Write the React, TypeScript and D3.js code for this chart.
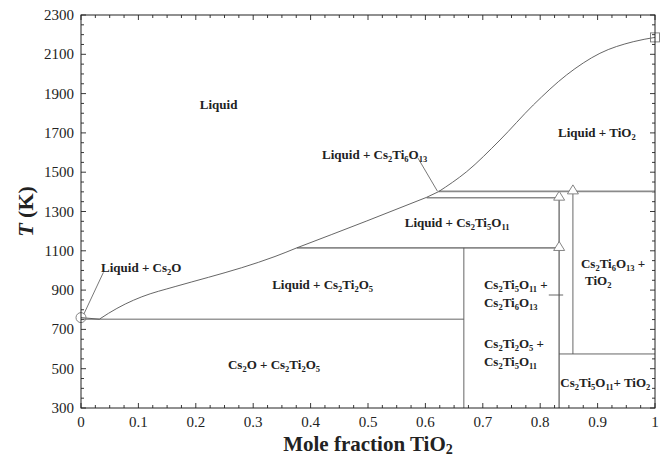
import React from "react";
import * as d3 from "d3";

// liquidus pieces, x = mole fraction TiO2, T in K
const liqCs2Ti2O5: [number, number][] = [
  [0.032, 752], [0.048, 782], [0.077, 829], [0.106, 866], [0.164, 918],
  [0.222, 965], [0.28, 1014], [0.338, 1071], [0.376, 1115],
];
const liqCs2Ti5O11: [number, number][] = [[0.376, 1115], [0.498, 1252], [0.602, 1372]];
const liqCs2Ti6O13: [number, number][] = [[0.602, 1372], [0.623, 1401]];
const liqTiO2: [number, number][] = [
  [0.623, 1401], [0.672, 1503], [0.73, 1664], [0.788, 1842], [0.846, 1995],
  [0.904, 2105], [0.962, 2164], [1.0, 2186],
];
const cs2oMelt: [number, number][] = [[0, 760], [0.032, 752]];

// thin dark lines
const thinLines: [number, number][][] = [
  [[0, 752], [0.667, 752]],
  [[0.667, 1115], [0.667, 300]],
  [[0.857, 1402], [0.857, 575]],
  [[0.833, 575], [1, 575]],
  [[0.815, 875], [0.84, 875]],
];
// grey heavier lines
const greyLines: [number, number][][] = [
  [[0.376, 1115], [0.833, 1115]],
  [[0.602, 1370], [0.833, 1370]],
  [[0.623, 1402], [1, 1402]],
  [[0.833, 1370], [0.833, 300]],
];
const leaders: [number, number][][] = [
  [[0.039, 990], [0.005, 778]],
  [[0.587, 1572], [0.621, 1403]],
];
const triangles: [number, number][] = [[0.833, 1378], [0.857, 1410], [0.833, 1122]];
const circles: [number, number][] = [[0, 760]];
const squares: [number, number][] = [[1, 2186]];

// region labels: text, x, T (left / baseline)
const labels: [string, number, number][] = [
  ["Liquid", 0.207, 1822],
  ["Liquid + Cs_2O", 0.035, 992],
  ["Liquid + Cs_2Ti_6O_13", 0.42, 1567],
  ["Liquid + TiO_2", 0.831, 1679],
  ["Liquid + Cs_2Ti_5O_11", 0.564, 1221],
  ["Liquid + Cs_2Ti_2O_5", 0.333, 906],
  ["Cs_2O + Cs_2Ti_2O_5", 0.256, 498],
  ["Cs_2Ti_5O_11 +", 0.702, 906],
  ["Cs_2Ti_6O_13", 0.702, 814],
  ["Cs_2Ti_2O_5 +", 0.702, 605],
  ["Cs_2Ti_5O_11", 0.702, 514],
  ["Cs_2Ti_6O_13 +", 0.871, 1012],
  ["TiO_2", 0.878, 926],
  ["Cs_2Ti_5O_11+ TiO_2", 0.835, 407],
];

const xTicks = d3.range(0, 1.0001, 0.1);
const xMinor = d3.range(0, 1.0001, 0.025);
const yTicks = d3.range(300, 2301, 200);
const yMinor = d3.range(300, 2301, 50);

const serif = "Liberation Serif, Times New Roman, serif";

function chem(s: string, sub: number) {
  const parts = s.split(/_(\d+)/);
  let shifted = false;
  return parts.map((p, i) => {
    if (p === "") return null;
    if (i % 2 === 1) {
      const el = <tspan key={i} fontSize={sub} dy={shifted ? 0 : 3}>{p}</tspan>;
      shifted = true;
      return el;
    }
    const el = <tspan key={i} dy={shifted ? -3 : 0}>{p}</tspan>;
    shifted = false;
    return el;
  });
}

export default function App() {
  const width = 662, height = 460;
  const m = { left: 81, right: 7, top: 15, bottom: 52 };
  const x = d3.scaleLinear().domain([0, 1]).range([m.left, width - m.right]);
  const y = d3.scaleLinear().domain([300, 2300]).range([height - m.bottom, m.top]);

  const line = d3.line<[number, number]>().x(d => x(d[0])).y(d => y(d[1]));
  const curve = d3.line<[number, number]>().x(d => x(d[0])).y(d => y(d[1])).curve(d3.curveMonotoneX);

  const x0 = x(0), x1 = x(1), y0 = y(300), y1 = y(2300);

  return (
    <svg width={width} height={height} style={{ position: "absolute", left: 0, top: 0, fontFamily: serif }}>
      <rect width={width} height={height} fill="#fff" />

      {/* ticks, inward on all sides */}
      <g stroke="#222" strokeWidth={0.9}>
        {xMinor.map((t, i) => {
          const len = i % 4 === 0 ? 5 : 3;
          return (
            <g key={"xm" + i}>
              <line x1={x(t)} x2={x(t)} y1={y0} y2={y0 - len} />
              <line x1={x(t)} x2={x(t)} y1={y1} y2={y1 + len} />
            </g>
          );
        })}
        {yMinor.map((t, i) => {
          const len = i % 4 === 0 ? 5 : 3;
          return (
            <g key={"ym" + i}>
              <line x1={x0} x2={x0 + len} y1={y(t)} y2={y(t)} />
              <line x1={x1} x2={x1 - len} y1={y(t)} y2={y(t)} />
            </g>
          );
        })}
      </g>

      <g fill="none">
        {greyLines.map((d, i) => (
          <path key={"g" + i} d={line(d) || ""} stroke="#8a8a8a" strokeWidth={1.7} />
        ))}
        {thinLines.map((d, i) => (
          <path key={"t" + i} d={line(d) || ""} stroke="#555" strokeWidth={0.9} />
        ))}
        {leaders.map((d, i) => (
          <path key={"l" + i} d={line(d) || ""} stroke="#555" strokeWidth={0.8} />
        ))}
        {[cs2oMelt, liqCs2Ti2O5, liqCs2Ti5O11, liqCs2Ti6O13, liqTiO2].map((d, i) => (
          <path key={"c" + i} d={curve(d) || ""} stroke="#555" strokeWidth={0.9} />
        ))}

        {triangles.map((d, i) => {
          const cx = x(d[0]), cy = y(d[1]);
          return (
            <path key={"tr" + i} d={`M${cx},${cy - 5}L${cx + 5.5},${cy + 4}L${cx - 5.5},${cy + 4}Z`}
              stroke="#777" strokeWidth={0.9} fill="#fff" />
          );
        })}
        {circles.map((d, i) => (
          <circle key={"o" + i} cx={x(d[0])} cy={y(d[1])} r={5} stroke="#777" strokeWidth={0.9} />
        ))}
        {squares.map((d, i) => (
          <rect key={"s" + i} x={x(d[0]) - 4.5} y={y(d[1]) - 4.5} width={9} height={9}
            stroke="#777" strokeWidth={0.9} />
        ))}
      </g>

      <rect x={x0} y={y1} width={x1 - x0} height={y0 - y1} fill="none" stroke="#222" strokeWidth={1} />

      {/* tick labels */}
      <g fill="#222" style={{ fontFamily: serif, fontSize: 15 }}>
        {xTicks.map((t, i) => (
          <text key={"xl" + i} x={x(t)} y={y0 + 19} textAnchor="middle">{d3.format("~g")(+t.toFixed(1))}</text>
        ))}
        {yTicks.map((t, i) => (
          <text key={"yl" + i} x={x0 - 7} y={y(t) + 5} textAnchor="end">{t}</text>
        ))}
      </g>

      {/* region labels */}
      <g fill="#222" style={{ fontFamily: serif, fontSize: 13, fontWeight: "bold" }}>
        {labels.map(([s, lx, ly], i) => (
          <text key={"lb" + i} x={x(lx)} y={y(ly)}>{chem(s, 8.5)}</text>
        ))}
      </g>

      {/* axis titles */}
      <text x={(x0 + x1) / 2} y={451} textAnchor="middle" fill="#222"
        style={{ fontFamily: serif, fontSize: 21, fontWeight: "bold" }}>
        {chem("Mole fraction TiO_2", 14)}
      </text>
      <text transform={`translate(33,${(y0 + y1) / 2}) rotate(-90)`} textAnchor="middle" fill="#222"
        style={{ fontFamily: serif, fontSize: 22, fontWeight: "bold" }}>
        <tspan fontStyle="italic">T</tspan> (K)
      </text>
    </svg>
  );
}
